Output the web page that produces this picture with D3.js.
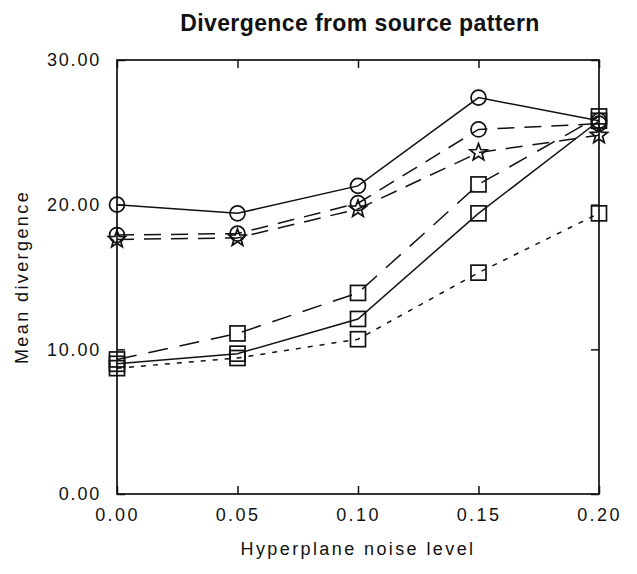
<!DOCTYPE html>
<html>
<head>
<meta charset="utf-8">
<script src="https://cdn.jsdelivr.net/npm/d3@7"></script>
<style>
  body { margin: 0; background: #fff; }
  svg { display: block; }
  text { font-family: "Liberation Sans", Arial, sans-serif; fill: #111; }
</style>
</head>
<body>
<svg id="chart"></svg>
<script>
// noise levels on the x axis
const noise = [0.00, 0.05, 0.10, 0.15, 0.20];

// mean divergence for each curve
const circleSolid  = [20.0, 19.4, 21.3, 27.4, 25.8];
const circleDashed = [17.9, 18.0, 20.1, 25.2, 25.6];
const starDashed   = [17.6, 17.7, 19.7, 23.6, 24.8];
const squareDashed = [9.3, 11.1, 13.9, 21.4, 26.1];
const squareSolid  = [9.0, 9.7, 12.1, 19.4, 25.8];
const squareDotted = [8.7, 9.4, 10.7, 15.3, 19.4];

const xTicks = [0.00, 0.05, 0.10, 0.15, 0.20];
const yTicks = [0, 10, 20, 30];

const series = [
  { values: circleSolid,  marker: 'circle', dash: null },
  { values: circleDashed, marker: 'circle', dash: '17,10' },
  { values: starDashed,   marker: 'star',   dash: '17,10' },
  { values: squareDashed, marker: 'square', dash: '20,12' },
  { values: squareSolid,  marker: 'square', dash: null },
  { values: squareDotted, marker: 'square', dash: '5,7' },
];

const width = 637, height = 574;
const margin = { top: 60, right: 38, bottom: 80, left: 117 };
const innerW = width - margin.left - margin.right;
const innerH = height - margin.top - margin.bottom;

const svg = d3.select('#chart').attr('width', width).attr('height', height);

const x = d3.scaleLinear().domain([0, 0.2]).range([0, innerW]);
const y = d3.scaleLinear().domain([0, 30]).range([innerH, 0]);

const g = svg.append('g').attr('transform', `translate(${margin.left},${margin.top})`);

// inward ticks on all four sides
const tickLen = 8;
const bottom = g.append('g').attr('transform', `translate(0,${innerH})`)
  .call(d3.axisBottom(x).tickValues(xTicks).tickFormat(d3.format('.2f')).tickSizeInner(-tickLen).tickSizeOuter(0).tickPadding(14));
const left = g.append('g')
  .call(d3.axisLeft(y).tickValues(yTicks).tickFormat(d3.format('.2f')).tickSizeInner(-tickLen).tickSizeOuter(0).tickPadding(16));
g.append('g')
  .call(d3.axisTop(x).tickValues(xTicks).tickFormat('').tickSizeInner(-tickLen).tickSizeOuter(0));
g.append('g').attr('transform', `translate(${innerW},0)`)
  .call(d3.axisRight(y).tickValues(yTicks).tickFormat('').tickSizeInner(-tickLen).tickSizeOuter(0));

g.selectAll('.domain').remove();
g.selectAll('.tick line').attr('stroke', '#111').attr('stroke-width', 1.5);
bottom.selectAll('text').style('font-size', '18px').style('letter-spacing', '2.4px').attr('fill', '#111');
left.selectAll('text').style('font-size', '18px').style('letter-spacing', '1.8px').attr('fill', '#111');

// frame
g.append('rect').attr('width', innerW).attr('height', innerH)
  .attr('fill', 'none').attr('stroke', '#111').attr('stroke-width', 1.7);

const line = d3.line().x((d, i) => x(noise[i])).y(d => y(d));

const starPath = (r) => {
  const pts = [];
  for (let k = 0; k < 10; k++) {
    const rad = k % 2 === 0 ? r : r * 0.42;
    const a = -Math.PI / 2 + k * Math.PI / 5;
    pts.push([rad * Math.cos(a), rad * Math.sin(a)]);
  }
  return 'M' + pts.map(p => p.join(',')).join('L') + 'Z';
};

series.forEach(s => {
  g.append('path')
    .datum(s.values)
    .attr('d', line)
    .attr('fill', 'none')
    .attr('stroke', '#111')
    .attr('stroke-width', 1.5)
    .attr('stroke-dasharray', s.dash);

  const m = g.selectAll(null).data(s.values).enter().append('g')
    .attr('transform', (d, i) => `translate(${x(noise[i])},${y(d)})`);

  if (s.marker === 'circle') {
    m.append('circle').attr('r', 7.5);
  } else if (s.marker === 'square') {
    m.append('rect').attr('x', -7.5).attr('y', -7.5).attr('width', 15).attr('height', 15);
  } else {
    m.append('path').attr('d', starPath(9));
  }
  m.selectAll('*').attr('fill', 'none').attr('stroke', '#111').attr('stroke-width', 1.7);
});

// titles
svg.append('text')
  .attr('x', margin.left + innerW / 2 + 2).attr('y', 31)
  .attr('text-anchor', 'middle')
  .style('font-size', '23px').style('font-weight', 'bold').style('letter-spacing', '0.4px')
  .text('Divergence from source pattern');

svg.append('text')
  .attr('x', margin.left + innerW / 2).attr('y', 555)
  .attr('text-anchor', 'middle')
  .style('font-size', '18px').style('letter-spacing', '2.4px')
  .text('Hyperplane noise level');

svg.append('text')
  .attr('transform', `translate(28,${margin.top + innerH / 2}) rotate(-90)`)
  .attr('text-anchor', 'middle')
  .style('font-size', '18px').style('letter-spacing', '2.4px')
  .text('Mean divergence');
</script>
</body>
</html>
